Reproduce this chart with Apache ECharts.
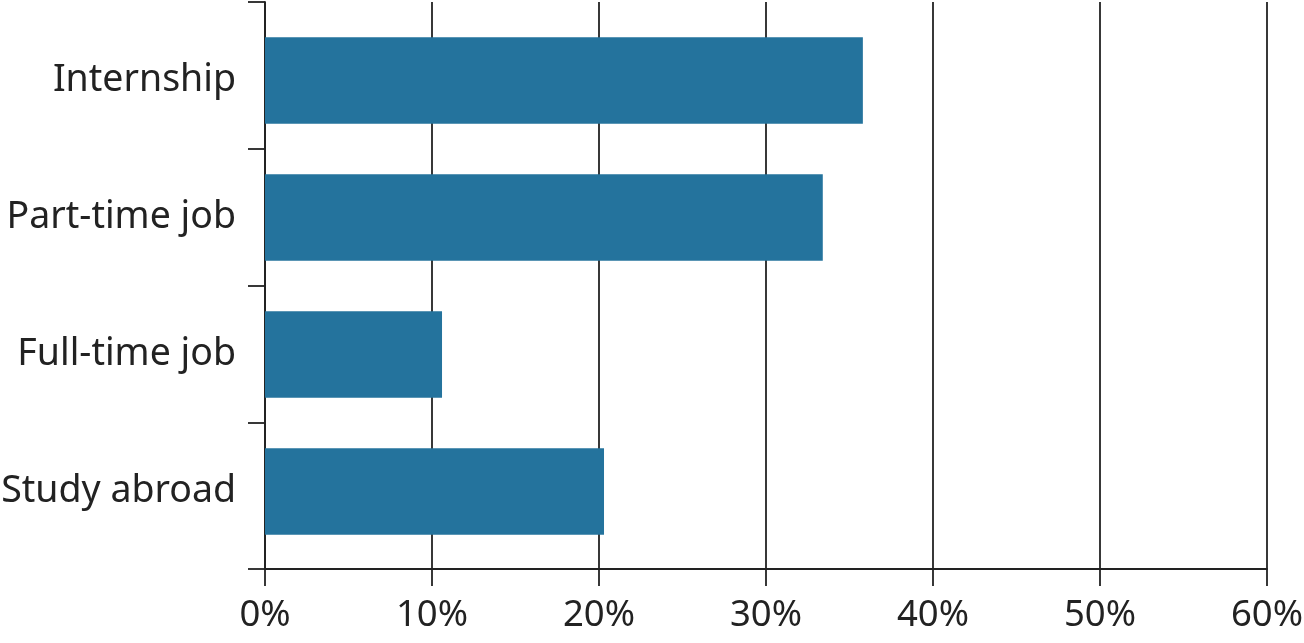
<!DOCTYPE html>
<html>
<head>
<meta charset="utf-8">
<script src="https://cdn.jsdelivr.net/npm/echarts@6/dist/echarts.min.js"></script>
<style>
html,body{margin:0;padding:0;background:#fff;}
#chart{width:1304px;height:643px;}
</style>
</head>
<body>
<div id="chart"></div>
<script>
const categories = ['Internship', 'Part-time job', 'Full-time job', 'Study abroad'];
const values = [35.8, 33.4, 10.6, 20.3];
const xTicks = [0, 10, 20, 30, 40, 50, 60];

const padTop = 0.073, padBot = 0.066;
const yMin = -0.5 - padTop;
const yMax = categories.length - 0.5 + padBot;
const tickVals = [yMin];
for (let i = 1; i < categories.length; i++) tickVals.push(i - 0.5);
tickVals.push(yMax);

const ink = '#222222';
const font = '"Noto Sans", "Open Sans", sans-serif';

const chart = echarts.init(document.getElementById('chart'), null, {renderer: 'canvas'});
chart.setOption({
  animation: false,
  backgroundColor: '#ffffff',
  grid: [
    {left: 265, right: 37, top: 12, bottom: 83, containLabel: false, outerBoundsMode: 'none'},
    {left: 265, right: 37, top: 2, bottom: 74, containLabel: false, outerBoundsMode: 'none'}
  ],
  xAxis: [
    {gridIndex: 0, type: 'value', min: xTicks[0], max: xTicks[xTicks.length - 1], interval: 10, show: false},
    {
      gridIndex: 1, type: 'value', min: xTicks[0], max: xTicks[xTicks.length - 1], interval: 10,
      position: 'bottom',
      axisLine: {show: true, onZero: false, lineStyle: {color: ink, width: 1.8}},
      axisTick: {show: true, length: 17, lineStyle: {color: ink, width: 1.8}},
      splitLine: {show: true, lineStyle: {color: ink, width: 1.8}},
      axisLabel: {formatter: '{value}%', color: ink, fontSize: 36.5, fontFamily: font, margin: 28}
    }
  ],
  yAxis: [
    {
      gridIndex: 0, type: 'category', inverse: true, data: categories,
      axisLine: {show: false}, axisTick: {show: false}, splitLine: {show: false},
      axisLabel: {color: ink, fontSize: 37.5, fontFamily: font, margin: 29, padding: [0, 0, 6, 0]}
    },
    {
      gridIndex: 1, type: 'value', inverse: true, min: yMin, max: yMax,
      position: 'left',
      axisLine: {show: true, onZero: false, lineStyle: {color: ink, width: 1.8}},
      axisTick: {show: true, length: 17, customValues: tickVals, lineStyle: {color: ink, width: 1.8}},
      axisLabel: {show: false},
      splitLine: {show: false}
    }
  ],
  series: [{
    type: 'bar',
    xAxisIndex: 0, yAxisIndex: 0,
    data: values,
    barCategoryGap: '37%',
    itemStyle: {color: '#24739d'},
    z: 1
  }]
});
</script>
</body>
</html>
